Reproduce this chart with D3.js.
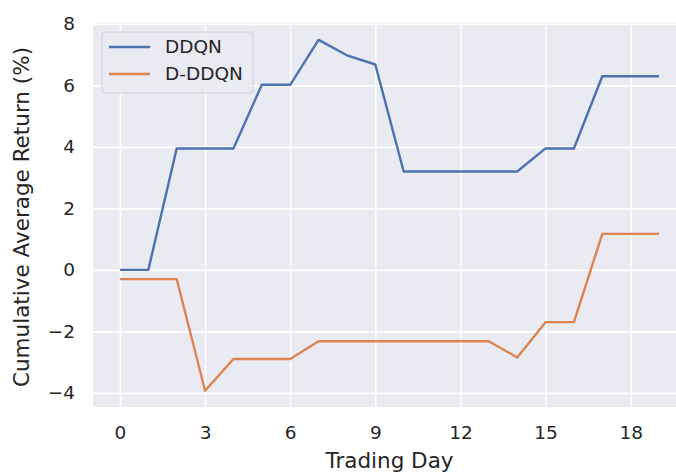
<!DOCTYPE html>
<html>
<head>
<meta charset="utf-8">
<script src="https://cdn.jsdelivr.net/npm/d3@7"></script>
<style>
  body { margin: 0; background: #fff; }
  text { font-family: "DejaVu Sans", sans-serif; fill: #262626; }
</style>
</head>
<body>
<div class="chart"></div>
<script>
// cumulative average return per trading day, two agents
var days = d3.range(0, 20);
var ddqn = [0, 0, 3.95, 3.95, 3.95, 6.02, 6.02, 7.48, 6.98, 6.68, 3.2, 3.2, 3.2, 3.2, 3.2, 3.95, 3.95, 6.3, 6.3, 6.3];
var dddqn = [-0.3, -0.3, -0.3, -3.93, -2.9, -2.9, -2.9, -2.32, -2.32, -2.32, -2.32, -2.32, -2.32, -2.32, -2.85, -1.7, -1.7, 1.17, 1.17, 1.17];
var seriesNames = ["DDQN", "D-DDQN"];
var seriesColors = ["#4c72b0", "#dd8452"];
var xTicks = [0, 3, 6, 9, 12, 15, 18];
var yTicks = [-4, -2, 0, 2, 4, 6, 8];

var svgWidth = 676;
var svgHeight = 475;

// plot box (right side runs past the picture edge like the original)
var margin = { top: 23, right: -10, bottom: 68, left: 93 };
var width = svgWidth - margin.left - margin.right;
var height = svgHeight - margin.top - margin.bottom;

var svg = d3.select(".chart")
    .append("svg")
    .attr("width", svgWidth)
    .attr("height", svgHeight)
    .style("display", "block");

var chart = svg.append("g")
    .attr("transform", "translate(" + margin.left + "," + margin.top + ")");

var xScale = d3.scaleLinear().domain([-0.95, 19.95]).range([0, width]);
var yScale = d3.scaleLinear().domain([-4.46, 8.03]).range([height, 0]);

chart.append("rect")
    .attr("width", width)
    .attr("height", height)
    .attr("fill", "#eaeaf2");

// grid
chart.append("g")
    .attr("transform", "translate(0," + height + ")")
    .call(d3.axisBottom(xScale).tickValues(xTicks).tickSize(-height).tickFormat(""))
    .call(function(g) {
        g.select(".domain").remove();
        g.selectAll("line").attr("stroke", "#fff").attr("stroke-width", 1.6);
    });

chart.append("g")
    .call(d3.axisLeft(yScale).tickValues(yTicks).tickSize(-width).tickFormat(""))
    .call(function(g) {
        g.select(".domain").remove();
        g.selectAll("line").attr("stroke", "#fff").attr("stroke-width", 1.6);
    });

// tick labels
chart.append("g")
    .attr("transform", "translate(0," + height + ")")
    .call(d3.axisBottom(xScale).tickValues(xTicks).tickSize(0).tickPadding(19))
    .call(function(g) {
        g.select(".domain").remove();
        g.selectAll("text").attr("font-size", "18.5px").attr("fill", "#262626")
            .attr("font-family", "DejaVu Sans, sans-serif");
    });

chart.append("g")
    .call(d3.axisLeft(yScale).tickValues(yTicks).tickSize(0).tickPadding(18)
        .tickFormat(function(d) { return d < 0 ? "\u2212" + Math.abs(d) : d; }))
    .call(function(g) {
        g.select(".domain").remove();
        g.selectAll("text").attr("font-size", "18.5px").attr("fill", "#262626")
            .attr("font-family", "DejaVu Sans, sans-serif");
    });

// lines
var line = d3.line()
    .x(function(d, i) { return xScale(days[i]); })
    .y(function(d) { return yScale(d); });

[ddqn, dddqn].forEach(function(vals, i) {
    chart.append("path")
        .datum(vals)
        .attr("fill", "none")
        .attr("stroke", seriesColors[i])
        .attr("stroke-width", 2.4)
        .attr("stroke-linejoin", "round")
        .attr("d", line);
});

// axis labels
svg.append("text")
    .attr("x", margin.left + xScale(9.5))
    .attr("y", 468)
    .attr("text-anchor", "middle")
    .attr("font-size", "21.5px")
    .text("Trading Day");

svg.append("text")
    .attr("transform", "translate(29,217) rotate(-90)")
    .attr("text-anchor", "middle")
    .attr("font-size", "21.5px")
    .text("Cumulative Average Return (%)");

// legend
var legend = svg.append("g").attr("transform", "translate(102,32)");
legend.append("rect")
    .attr("width", 151)
    .attr("height", 61)
    .attr("rx", 3)
    .attr("fill", "#eaeaf2")
    .attr("fill-opacity", 0.8)
    .attr("stroke", "#d0d0d8")
    .attr("stroke-width", 1);

seriesNames.forEach(function(name, i) {
    var row = legend.append("g").attr("transform", "translate(0," + (15 + i * 27) + ")");
    row.append("line")
        .attr("x1", 7).attr("x2", 48)
        .attr("stroke", seriesColors[i])
        .attr("stroke-width", 2.4);
    row.append("text")
        .attr("x", 63)
        .attr("dy", "0.35em")
        .attr("font-size", "18.5px")
        .text(name);
});
</script>
</body>
</html>
